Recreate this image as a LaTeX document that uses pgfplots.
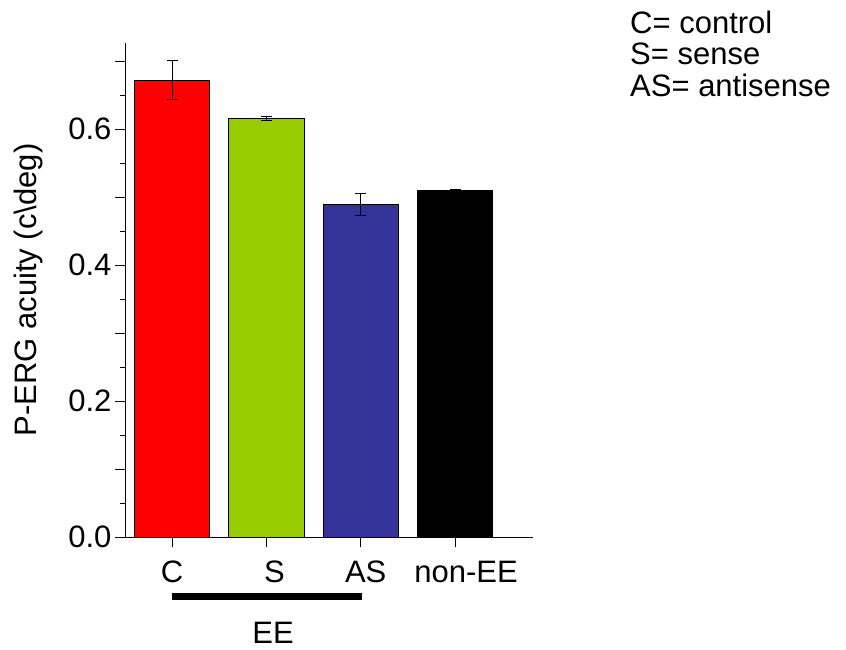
\documentclass[border=0pt]{standalone}
\usepackage{pgfplots}
\pgfplotsset{compat=1.18}
\usepackage{fontspec}
\setmainfont{Liberation Sans}
\definecolor{cred}{RGB}{255,0,0}
\definecolor{cgreen}{RGB}{153,204,0}
\definecolor{cblue}{RGB}{51,51,153}
\begin{document}
\begin{tikzpicture}[font=\fontsize{31bp}{37bp}\selectfont]
\useasboundingbox (0,0) rectangle (846bp,650bp);
\begin{axis}[
  at={(125bp,112.7bp)}, anchor=south west,
  scale only axis, width=408.3bp, height=494.6bp,
  xmin=-0.5, xmax=3.83, ymin=0, ymax=0.727,
  axis x line*=bottom, axis y line*=left,
  axis line style={-, line width=1bp, black},
  tick align=outside,
  xtick={0,1,2,3},
  xticklabels={C,\hspace*{16bp}S,\hspace*{10bp}AS,\hspace*{22bp}non-EE},
  xticklabel style={yshift=-10bp},
  ytick={0,0.1,0.2,0.3,0.4,0.5,0.6,0.7},
  yticklabels={0.0,,0.2,,0.4,,0.6,},
  minor y tick num=1,
  major tick length=10bp, minor tick length=5bp,
  tick style={black, line width=1bp},
  tick label style={font=\fontsize{31bp}{37bp}\selectfont},
  clip=false,
  ybar, bar width=0.8,
  error bars/error bar style={black, line width=0.8bp},
  error bars/error mark options={rotate=90, mark size=5.5bp, black, line width=0.8bp},
]
\addplot[ybar, bar shift=0pt, fill=cred, draw=black, line width=1bp,
  error bars/.cd, y dir=both, y explicit]
  coordinates {(0,0.672) +- (0,0.0284)};
\addplot[ybar, bar shift=0pt, fill=cgreen, draw=black, line width=1bp,
  error bars/.cd, y dir=both, y explicit]
  coordinates {(1,0.616) +- (0,0.003)};
\addplot[ybar, bar shift=0pt, fill=cblue, draw=black, line width=1bp,
  error bars/.cd, y dir=both, y explicit]
  coordinates {(2,0.489) +- (0,0.016)};
\addplot[ybar, bar shift=0pt, fill=black, draw=black, line width=1bp,
  error bars/.cd, y dir=both, y explicit]
  coordinates {(3,0.510) +- (0,0.001)};
\draw[line width=6.7bp] (axis cs:0,-0.0873) -- (axis cs:2.015,-0.0873);
\node[anchor=base, inner sep=0pt] at (axis cs:1.07,-0.1568) {EE};
\end{axis}
\node[rotate=90, inner sep=0pt] at (28bp,360bp) {P-ERG acuity (c\textbackslash deg)};
\node[anchor=base west, inner sep=0pt] at (630bp,616.7bp) {C= control};
\node[anchor=base west, inner sep=0pt] at (630bp,585bp) {S= sense};
\node[anchor=base west, inner sep=0pt] at (630bp,553.3bp) {AS= antisense};
\end{tikzpicture}
\end{document}
